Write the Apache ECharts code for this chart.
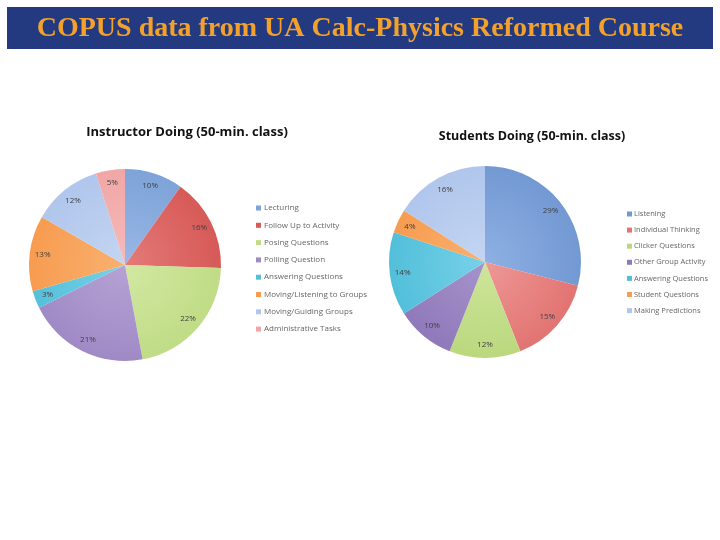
<!DOCTYPE html>
<html>
<head>
<meta charset="utf-8">
<script src="https://cdn.jsdelivr.net/npm/echarts@6/dist/echarts.min.js"></script>
<style>html,body{margin:0;padding:0;background:#fff}#c{width:720px;height:540px}</style>
</head>
<body>
<div id="c"></div>
<script>
var instructorCategories = ['Lecturing','Follow Up to Activity','Posing Questions','Polling Question','Answering Questions','Moving/Listening to Groups','Moving/Guiding Groups','Administrative Tasks'];
var instructorValues = [10,16,22,21,3,13,12,5];
var studentCategories = ['Listening','Individual Thinking','Clicker Questions','Other Group Activity','Answering Questions ','Student Questions','Making Predictions'];
var studentValues = [29,15,12,10,14,4,16];

var instructorColors = [['#98b7e6','#7ea3d8'],['#e47a78','#d65a57'],['#d2e8a2','#c0dc86'],['#b6a2d4','#a08ac6'],['#78d1e8','#55c0da'],['#f9b070','#f79c50'],['#c4d5f2','#b0c6ec'],['#f5bbbb','#f1a6a6']];
var studentColors = [['#8eb0e3','#7399d3'],['#ee9896','#e27472'],['#cde59a','#bbd87e'],['#a693cb','#9079ba'],['#78d1e8','#52bfda'],['#f9b070','#f79c50'],['#c4d5f2','#b0c6ec']];

function grad(c, cx, cy, r){
  return {type:'radial', x:cx, y:cy, r:r, global:true, colorStops:[{offset:0,color:c[0]},{offset:1,color:c[1]}]};
}
function build(cats, vals, cols, cx, cy, r){
  return cats.map(function(n,i){ return {name:n, value:vals[i], itemStyle:{color:grad(cols[i],cx,cy,r)}}; });
}
function labels(cats, vals){
  return cats.map(function(n,i){ return {name:n, value:vals[i]}; });
}

var L = {cx:125, cy:265, r:96};
var R = {cx:485, cy:262, r:96};

var chart = echarts.init(document.getElementById('c'));
var labelStyle = {show:true, position:'inside', formatter:'{c}%', fontSize:8, color:'#404040', fontFamily:'Open Sans'};

chart.setOption({
  backgroundColor:'#fff',
  animation:false,
  graphic:[
    {type:'rect', shape:{x:7,y:7,width:706,height:42}, style:{fill:'#243a80'}},
    {type:'text', x:360, y:29, style:{text:'COPUS data from UA Calc-Physics Reformed Course', fill:'#f2a12c', font:'bold 28px "Liberation Serif"', align:'center', verticalAlign:'middle'}},
    {type:'text', x:187, y:132, style:{text:'Instructor Doing (50-min. class)', fill:'#111', font:'bold 13px "Open Sans"', align:'center', verticalAlign:'middle'}},
    {type:'text', x:532, y:136, style:{text:'Students Doing (50-min. class)', fill:'#111', font:'bold 12.5px "Open Sans"', align:'center', verticalAlign:'middle'}}
  ],
  legend:[
    {data:instructorCategories, orient:'vertical', left:251, top:199, itemWidth:5, itemHeight:5, itemGap:9.3, icon:'rect', textStyle:{fontSize:8, color:'#666', fontFamily:'Open Sans', padding:[0,0,0,-2]}, selectedMode:false},
    {data:studentCategories, orient:'vertical', left:622, top:205, itemWidth:5, itemHeight:5, itemGap:8.1, icon:'rect', textStyle:{fontSize:7.5, color:'#666', fontFamily:'Open Sans', padding:[0,0,0,-3]}, selectedMode:false}
  ],
  series:[
    {type:'pie', center:[L.cx,L.cy], radius:[0,L.r], startAngle:90, clockwise:true, label:{show:false}, labelLine:{show:false}, data:build(instructorCategories,instructorValues,instructorColors,L.cx,L.cy,L.r), emphasis:{disabled:true}},
    {type:'pie', center:[R.cx,R.cy], radius:[0,R.r], startAngle:90, clockwise:true, label:{show:false}, labelLine:{show:false}, data:build(studentCategories,studentValues,studentColors,R.cx,R.cy,R.r), emphasis:{disabled:true}},
    {type:'pie', center:[L.cx,L.cy], radius:[64,L.r], startAngle:90, clockwise:true, silent:true, itemStyle:{color:'rgba(0,0,0,0)'}, label:labelStyle, labelLine:{show:false}, data:labels(instructorCategories,instructorValues), emphasis:{disabled:true}},
    {type:'pie', center:[R.cx,R.cy], radius:[64,R.r], startAngle:90, clockwise:true, silent:true, itemStyle:{color:'rgba(0,0,0,0)'}, label:labelStyle, labelLine:{show:false}, data:labels(studentCategories,studentValues), emphasis:{disabled:true}}
  ]
});
</script>
</body>
</html>
